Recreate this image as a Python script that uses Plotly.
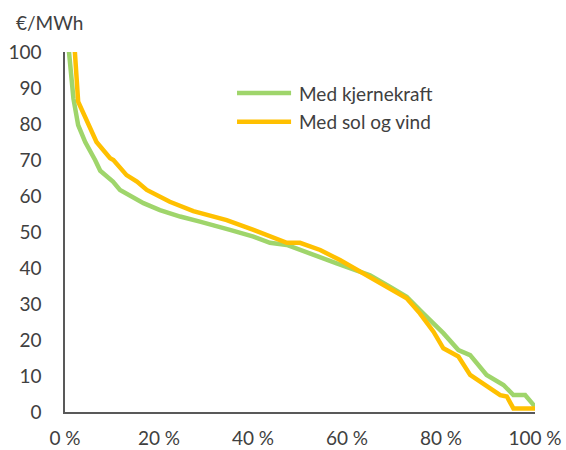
import plotly.graph_objects as go

# Price duration curves (share of hours, price in €/MWh)
nuclear_pct = [0.5, 0.85, 1.8, 2.8, 4.3, 6.0, 6.4, 7.5, 8.2, 10.2, 11.7, 16.7, 20.2, 24.5, 28.7,
               33.0, 35.1, 40.1, 43.6, 47.2, 52.8, 57.8, 62.1, 64.9, 69.1, 72.7, 76.2, 80.5,
               83.7, 86.2, 89.7, 93.3, 95.4, 97.9, 100.0]
nuclear_price = [115, 100, 87, 79.7, 75, 71.4, 70, 67, 66.3, 64, 61.7, 58, 56.1, 54.3, 52.9,
                 51.5, 50.6, 48.7, 47, 46.4, 43.6, 41.3, 39.3, 38, 34.8, 32, 27.4, 21.9,
                 17.2, 15.8, 10.3, 7.5, 4.7, 4.7, 1.5]

solar_wind_pct = [1.9, 2.1, 2.8, 4.3, 6.7, 9.6, 10.3, 13.1, 15.3, 17.4, 22.3, 27.3, 33.0, 34.4,
                  40.1, 45.0, 47.2, 50.0, 54.3, 58.5, 62.8, 68.4, 72.7, 75.5, 78.4, 80.5,
                  83.7, 86.2, 89.0, 92.6, 94.0, 95.4, 100.0]
solar_wind_price = [115, 100, 86.2, 81.6, 75, 70.5, 70, 65.8, 64, 61.7, 58.4, 55.8, 53.8, 53.3,
                    50.6, 48.2, 47, 47, 45, 42.2, 39, 34.8, 31.6, 27.4, 22.3, 17.7,
                    15.4, 10.3, 8, 4.7, 4.3, 1, 1]

series_names = ["Med kjernekraft", "Med sol og vind"]
series_colors = ["#9FD56B", "#FFC000"]

x_ticks = [0, 20, 40, 60, 80, 100]
x_ticktext = [f"{v} %" for v in x_ticks]
y_ticks = [0, 10, 20, 30, 40, 50, 60, 70, 80, 90, 100]

FONT = "Lato"
TEXT = "#404040"
LINE_W = 4.5

fig = go.Figure()
for xs, ys, name, color in [
    (nuclear_pct, nuclear_price, series_names[0], series_colors[0]),
    (solar_wind_pct, solar_wind_price, series_names[1], series_colors[1]),
]:
    fig.add_trace(go.Scatter(x=xs, y=ys, mode="lines", name=name,
                             line=dict(color=color, width=LINE_W, shape="linear"),
                             showlegend=False))

# Legend drawn as sample lines plus labels inside the plot area
legend_rows = [0.886, 0.806]
for name, color, yy in zip(series_names, series_colors, legend_rows):
    fig.add_shape(type="line", xref="paper", yref="paper",
                  x0=0.366, x1=0.481, y0=yy, y1=yy,
                  line=dict(color=color, width=LINE_W))
    fig.add_annotation(xref="paper", yref="paper", x=0.494, y=yy, text=name,
                       showarrow=False, xanchor="left", yanchor="middle",
                       font=dict(family=FONT, size=19, color=TEXT))

fig.add_annotation(xref="paper", yref="paper", x=-0.032, y=1.083, text="€/MWh",
                   showarrow=False, xanchor="center", yanchor="middle",
                   font=dict(family=FONT, size=19, color=TEXT))

fig.update_layout(
    width=566, height=450,
    margin=dict(l=65, r=31, t=52, b=38, autoexpand=False),
    paper_bgcolor="white", plot_bgcolor="white",
    font=dict(family=FONT, size=19, color=TEXT),
    xaxis=dict(range=[0, 100], tickvals=x_ticks, ticktext=x_ticktext, automargin=False,
               showgrid=False, zeroline=False, showline=True,
               linecolor="#595959", linewidth=1.5, ticks="", ticklabelstandoff=8),
    yaxis=dict(range=[0, 100], tickvals=y_ticks, showgrid=False, zeroline=False,
               automargin=False, showline=True, linecolor="#595959", linewidth=1.5,
               ticks="", ticklabelstandoff=18),
)

fig.write_html("out.html")
